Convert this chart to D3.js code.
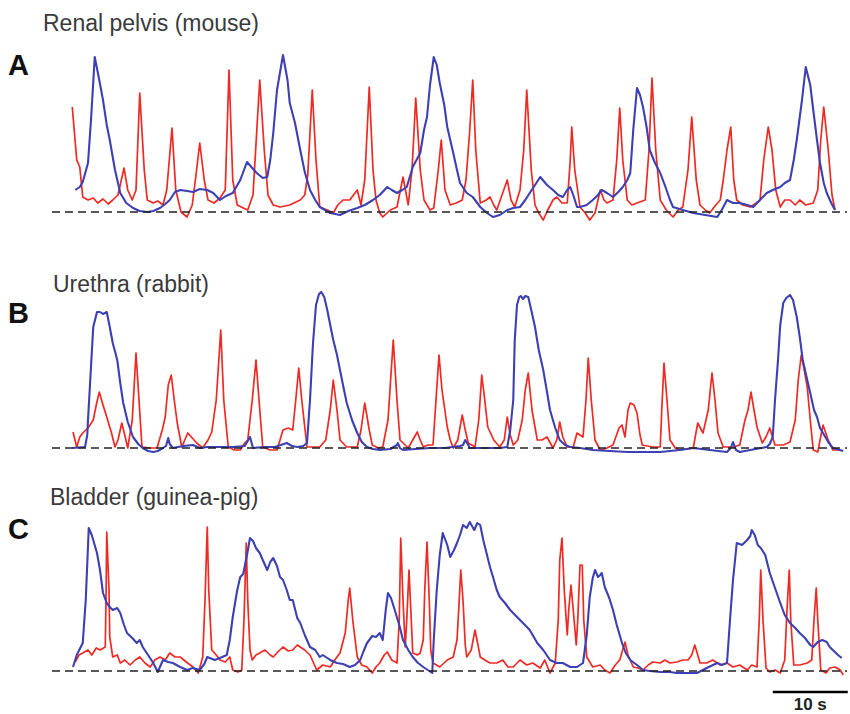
<!DOCTYPE html>
<html>
<head>
<meta charset="utf-8">
<script src="https://cdn.jsdelivr.net/npm/d3@7"></script>
<style>
  body { margin: 0; background: #fff; }
  svg { display: block; }
</style>
</head>
<body>
<svg id="chart"></svg>
<script>
// traces: [time (s), signal (a.u., 0 = resting level)]
const pelvisRed = [
  [0.3,105],[0.9,52],[1.3,45],[1.7,15],[2.4,12],[3.1,14],[3.7,9],[4.4,13],[5.1,8],[5.7,12],[6.4,17],[7.2,44],[7.7,22],[8.3,12],[8.8,22],[9.3,119],[9.9,42],[10.3,12],[11.1,9],[11.7,11],[12.4,7],[12.9,22],[13.6,84],[14.1,22],[14.8,0],[15.6,-5],[16.3,7],[16.8,37],[17.3,69],[17.9,32],[18.4,12],[19.2,9],[20.0,14],[20.7,22],[21.2,142],[21.7,32],[22.3,7],[23.1,4],[23.7,2],[24.4,17],[25.3,132],[25.9,62],[26.4,17],[27.1,7],[28.0,5],[29.3,7],[30.7,12],[31.3,17],[31.7,37],[32.3,122],[32.8,52],[33.3,5],[34.3,2],[35.1,-1],[35.7,7],[36.4,12],[37.3,12],[38.3,22],[38.8,7],[39.3,32],[39.9,125],[40.4,42],[40.8,12],[41.3,-1],[41.7,-5],[42.7,2],[43.6,5],[44.4,35],[45.1,7],[45.6,42],[46.1,114],[46.7,42],[47.2,12],[48.0,2],[48.5,4],[49.1,42],[49.5,72],[50.0,22],[50.7,7],[51.5,9],[52.3,12],[52.8,32],[53.3,82],[53.7,132],[54.1,62],[54.7,9],[55.5,12],[56.0,15],[56.5,7],[56.9,2],[57.6,17],[58.3,32],[58.8,12],[59.3,5],[60.0,22],[60.5,62],[60.9,122],[61.5,42],[62.0,7],[62.5,-1],[63.1,-8],[63.7,2],[64.4,12],[64.9,15],[65.6,9],[66.3,9],[66.7,52],[66.9,85],[67.3,42],[68.0,5],[68.7,-1],[69.3,-8],[70.0,-1],[70.7,22],[71.2,12],[71.6,9],[72.4,12],[72.9,52],[73.3,104],[73.7,52],[74.3,12],[74.9,7],[75.6,9],[76.7,12],[77.2,62],[77.6,134],[78.1,62],[78.7,12],[79.5,2],[80.4,-5],[81.1,2],[81.7,5],[82.4,42],[82.9,95],[83.5,32],[84.0,7],[84.7,2],[85.3,-1],[86.1,7],[86.7,12],[87.1,32],[87.6,62],[88.1,85],[88.5,32],[88.9,12],[89.7,7],[90.7,5],[91.5,9],[92.0,12],[92.5,52],[93.1,85],[93.6,62],[94.1,22],[94.7,5],[95.3,12],[96.0,12],[96.7,7],[97.3,12],[98.1,7],[99.1,9],[99.7,22],[100.1,72],[100.5,105],[101.1,62],[101.6,17],[102.0,2]
];
const pelvisBlue = [
  [0.7,22],[1.3,25],[1.7,30],[2.4,49],[2.8,92],[3.3,155],[3.9,132],[4.4,112],[4.9,87],[5.3,72],[6.0,42],[6.7,19],[7.5,9],[8.4,4],[9.3,1],[10.3,0],[11.1,1],[12.0,4],[12.7,8],[13.3,12],[14.0,20],[14.7,22],[15.6,21],[16.4,20],[17.3,23],[18.3,22],[19.1,19],[20.0,12],[20.8,16],[21.7,19],[22.7,32],[23.6,50],[24.3,44],[24.9,39],[25.7,34],[26.3,35],[26.7,52],[27.1,79],[27.6,122],[28.4,157],[29.0,132],[29.3,109],[30.0,89],[30.7,62],[31.3,40],[32.0,22],[32.7,12],[33.3,5],[34.7,-1],[36.0,-3],[37.1,1],[38.3,4],[39.3,7],[40.4,12],[41.3,17],[42.3,25],[42.9,22],[43.6,19],[44.3,22],[44.9,25],[45.7,45],[46.7,59],[47.2,82],[47.6,95],[48.0,127],[48.5,155],[48.9,147],[49.3,129],[49.9,107],[50.3,85],[50.7,72],[51.1,59],[51.6,42],[52.0,29],[52.9,19],[53.7,15],[54.7,5],[55.6,-1],[56.4,-5],[57.3,-3],[58.3,2],[59.1,4],[60.0,5],[60.7,12],[61.3,19],[62.0,27],[62.7,35],[63.6,27],[64.4,22],[65.1,17],[65.7,15],[66.3,22],[66.7,25],[67.1,17],[67.6,5],[68.0,5],[68.9,7],[69.7,12],[70.4,17],[70.9,22],[71.6,19],[72.4,15],[73.1,20],[73.7,25],[74.3,32],[74.7,39],[75.1,82],[75.6,124],[76.0,117],[76.4,105],[76.9,84],[77.3,62],[78.0,49],[78.7,39],[79.3,27],[80.0,12],[80.4,5],[81.7,2],[83.1,-1],[84.7,-3],[86.3,-5],[86.9,2],[87.6,12],[88.4,9],[89.3,9],[90.3,7],[91.1,5],[92.0,12],[92.9,19],[93.7,22],[94.7,25],[95.3,29],[96.0,32],[96.5,52],[96.9,72],[97.6,112],[98.1,145],[98.7,127],[99.1,102],[99.6,72],[100.0,49],[100.5,29],[100.9,19],[101.5,9],[102.0,2]
];
const urethraRed = [
  [0.4,16],[0.9,1],[1.3,11],[1.7,15],[2.4,20],[3.1,28],[3.5,43],[3.9,56],[4.4,43],[4.9,31],[5.5,16],[6.0,1],[6.4,8],[6.9,25],[7.3,13],[7.7,0],[8.3,28],[8.8,95],[9.2,48],[9.6,1],[10.7,0],[11.6,0],[12.3,18],[12.7,31],[13.1,63],[13.5,73],[13.9,48],[14.3,25],[14.9,1],[15.7,15],[16.3,10],[16.9,5],[17.7,0],[18.4,8],[18.9,16],[19.5,48],[20.1,118],[20.5,48],[21.1,1],[21.9,-2],[22.7,-2],[23.3,5],[23.7,8],[24.3,48],[24.8,88],[25.2,48],[25.7,1],[26.7,-2],[27.6,-2],[28.4,18],[29.1,20],[29.7,18],[30.1,48],[30.5,80],[30.9,48],[31.6,1],[32.5,1],[33.3,1],[34.1,8],[34.7,38],[35.1,68],[35.6,38],[36.0,8],[36.9,1],[38.3,1],[38.8,18],[39.3,45],[39.9,18],[40.3,3],[41.1,0],[41.7,1],[42.4,28],[43.1,108],[43.6,48],[44.0,8],[45.1,0],[45.7,8],[46.3,16],[46.7,8],[47.1,1],[47.7,3],[48.4,3],[48.8,48],[49.2,93],[49.6,58],[50.3,21],[50.7,8],[51.1,0],[51.7,8],[52.3,33],[52.7,18],[53.1,5],[54.0,1],[54.5,28],[54.9,73],[55.3,48],[55.7,21],[56.5,8],[57.3,1],[57.9,8],[58.3,31],[58.7,13],[59.1,3],[59.7,8],[60.3,28],[60.7,58],[61.1,75],[61.6,38],[62.3,8],[62.9,8],[63.6,11],[64.4,0],[64.9,8],[65.3,26],[65.7,11],[66.3,1],[67.1,1],[67.6,15],[68.4,11],[68.8,48],[69.1,90],[69.5,48],[70.0,8],[70.7,-2],[71.6,0],[72.4,3],[73.2,20],[73.6,23],[74.0,11],[74.4,38],[74.7,45],[75.2,43],[75.6,35],[76.0,13],[76.3,3],[77.7,1],[78.7,1],[78.9,38],[79.2,85],[79.6,48],[80.0,8],[80.7,0],[81.3,-2],[83.1,0],[83.7,25],[84.4,15],[85.1,38],[85.6,75],[86.0,48],[86.4,15],[87.1,1],[88.4,1],[89.3,3],[90.0,28],[90.4,38],[90.8,56],[91.2,38],[91.6,21],[92.3,5],[92.8,11],[93.3,20],[94.0,3],[95.1,3],[96.0,6],[96.7,28],[97.1,68],[97.5,93],[97.9,78],[98.3,61],[98.7,28],[99.1,-2],[99.7,-4],[100.4,23],[101.1,8],[101.7,-2],[102.7,-2]
];
const urethraBlue = [
  [0.3,0],[2.0,1],[2.3,13],[2.4,28],[2.7,68],[3.1,121],[3.6,136],[4.0,136],[4.4,134],[4.9,136],[5.3,121],[5.7,105],[6.3,88],[6.7,65],[7.1,45],[7.7,26],[8.4,11],[9.1,4],[9.7,0],[10.4,-3],[11.1,-4],[11.7,-3],[12.4,0],[12.8,2],[13.1,10],[13.3,4],[13.7,0],[15.1,2],[16.4,3],[17.3,0],[18.3,1],[20.0,1],[21.7,1],[23.3,2],[24.0,11],[24.4,0],[26.0,1],[27.3,1],[28.9,5],[29.6,2],[30.3,1],[31.1,2],[31.6,5],[32.0,48],[32.4,105],[32.8,143],[33.2,154],[33.5,156],[33.9,151],[34.3,138],[34.7,123],[35.1,108],[35.6,93],[36.0,78],[36.4,63],[36.9,45],[37.6,28],[38.3,15],[38.9,6],[39.6,1],[40.4,-1],[41.3,-2],[42.7,-1],[43.6,3],[43.7,5],[44.0,0],[44.4,-2],[46.0,-1],[48.0,0],[50.0,0],[52.0,2],[52.4,3],[52.7,8],[53.1,3],[53.3,0],[54.7,0],[56.0,0],[57.3,0],[58.3,1],[58.7,18],[59.1,48],[59.3,108],[59.6,143],[59.9,151],[60.1,152],[60.4,149],[60.7,152],[61.1,151],[61.5,138],[62.0,121],[62.5,98],[63.1,78],[63.6,56],[64.0,38],[64.7,20],[65.3,8],[66.0,3],[66.7,1],[68.0,0],[69.7,-2],[72.0,-3],[74.3,-4],[76.7,-4],[78.7,-4],[81.3,-2],[83.1,0],[85.3,-2],[87.6,-4],[88.1,0],[88.4,6],[88.8,-2],[89.3,-4],[90.7,-2],[92.9,1],[93.3,4],[93.7,11],[94.0,48],[94.4,88],[94.7,123],[95.1,145],[95.5,150],[96.0,153],[96.4,148],[96.9,131],[97.3,111],[97.7,88],[98.3,68],[98.7,55],[99.2,38],[99.6,31],[100.0,20],[100.4,15],[101.1,6],[101.7,0],[103.1,-3]
];
const bladderRed = [
  [0.7,9],[1.2,16],[1.7,18],[2.4,21],[2.9,16],[3.5,23],[4.0,21],[4.7,24],[4.8,71],[4.9,139],[5.2,81],[5.3,34],[5.7,14],[6.3,16],[6.7,8],[7.3,11],[8.0,6],[8.7,11],[9.3,14],[10.0,8],[10.7,4],[11.3,11],[12.0,14],[12.7,11],[13.3,18],[14.0,14],[14.7,14],[15.5,9],[16.4,4],[17.1,-2],[17.7,14],[18.0,71],[18.3,144],[18.5,81],[18.9,21],[19.5,16],[20.0,11],[20.7,9],[21.3,14],[21.7,1],[22.4,-1],[22.9,1],[23.2,51],[23.5,128],[23.7,71],[24.0,21],[24.3,11],[24.8,16],[25.3,18],[26.0,21],[26.7,16],[27.1,14],[27.7,19],[28.4,24],[29.1,20],[29.7,21],[30.3,26],[30.7,24],[31.3,21],[32.0,16],[32.9,1],[33.7,6],[34.7,4],[35.3,11],[36.0,18],[36.7,38],[37.1,71],[37.3,83],[37.7,51],[38.3,14],[38.9,6],[39.6,4],[40.3,-2],[40.8,4],[41.3,8],[41.9,16],[42.3,19],[42.9,11],[43.6,8],[43.9,51],[44.1,133],[44.4,71],[44.7,24],[44.9,51],[45.2,101],[45.5,51],[45.7,18],[46.3,16],[46.7,18],[47.1,31],[47.3,81],[47.6,129],[47.9,71],[48.1,21],[48.4,8],[49.3,4],[50.3,11],[51.1,14],[51.6,31],[51.9,71],[52.1,101],[52.4,71],[52.7,26],[52.9,14],[53.5,21],[54.0,41],[54.4,26],[54.7,14],[55.3,11],[56.0,8],[56.9,8],[57.7,11],[58.4,4],[59.1,4],[60.0,11],[60.9,6],[61.7,8],[62.7,3],[63.3,11],[64.0,-2],[64.7,8],[65.1,51],[65.3,111],[65.6,133],[65.9,81],[66.3,36],[66.5,61],[66.8,86],[67.1,61],[67.5,26],[67.7,51],[68.0,106],[68.3,106],[68.5,51],[68.9,14],[69.7,4],[70.7,6],[71.3,1],[72.0,-2],[72.7,6],[73.3,11],[74.0,29],[74.4,16],[75.1,4],[75.7,3],[76.4,1],[77.1,6],[77.7,9],[78.7,8],[79.3,11],[80.0,8],[80.9,9],[81.7,11],[82.4,11],[82.9,16],[83.3,26],[83.7,16],[84.0,8],[84.9,8],[85.7,11],[86.7,6],[87.6,8],[88.4,4],[89.3,6],[90.3,1],[90.9,6],[91.6,4],[91.9,51],[92.1,101],[92.4,51],[92.8,3],[93.3,-1],[94.0,1],[94.7,-2],[95.3,11],[95.6,61],[95.9,101],[96.1,51],[96.5,6],[97.3,6],[98.3,8],[98.9,11],[99.2,51],[99.5,83],[99.7,51],[100.1,1],[100.8,-2],[101.3,3],[102.0,4],[102.7,1],[103.1,-4]
];
const bladderBlue = [
  [0.4,4],[0.9,16],[1.7,28],[2.1,71],[2.5,143],[2.9,136],[3.6,118],[4.0,101],[4.4,78],[4.9,68],[5.3,64],[5.7,61],[6.3,63],[6.7,58],[7.2,46],[7.6,38],[8.3,33],[8.9,28],[9.3,31],[9.7,24],[10.4,16],[11.1,8],[11.7,-1],[12.4,11],[13.1,9],[13.7,8],[14.7,4],[15.6,1],[16.4,3],[17.3,1],[17.9,7],[18.3,14],[19.3,11],[20.3,14],[20.9,16],[21.3,31],[21.7,54],[22.3,81],[22.7,94],[23.1,97],[23.6,116],[24.0,133],[24.4,130],[24.8,123],[25.3,118],[25.7,111],[26.3,101],[26.7,109],[27.1,113],[27.6,105],[28.0,94],[28.4,91],[28.9,81],[29.3,71],[29.7,71],[30.3,53],[30.7,48],[31.3,36],[32.0,24],[32.7,21],[33.3,14],[33.7,16],[34.7,11],[35.6,8],[36.4,7],[37.3,4],[38.0,6],[38.7,11],[39.1,19],[39.6,28],[40.3,35],[40.8,34],[41.3,38],[41.7,31],[42.1,61],[42.4,78],[42.8,73],[43.3,61],[43.9,46],[44.4,31],[45.1,21],[45.7,14],[46.4,8],[47.1,4],[47.7,1],[48.3,-2],[48.5,31],[48.9,81],[49.3,116],[49.7,138],[50.3,126],[50.7,114],[51.2,121],[51.6,128],[52.0,136],[52.4,146],[52.9,143],[53.3,149],[53.9,141],[54.3,148],[54.7,146],[55.1,131],[55.6,116],[56.0,104],[56.4,94],[56.9,81],[57.3,74],[58.0,68],[58.7,61],[59.6,54],[60.4,48],[61.3,41],[62.3,28],[63.1,21],[64.0,11],[64.9,8],[65.7,8],[66.7,4],[67.6,4],[68.4,8],[68.9,36],[69.3,74],[69.7,93],[70.0,101],[70.4,94],[70.7,96],[70.9,98],[71.3,84],[71.9,73],[72.4,61],[72.9,46],[73.6,28],[74.1,18],[74.7,11],[75.6,6],[76.4,1],[77.3,0],[78.7,-1],[80.0,-1],[80.9,-2],[82.3,-2],[83.6,-2],[84.9,3],[86.3,8],[86.9,6],[87.6,8],[88.0,51],[88.4,91],[88.9,128],[89.6,126],[90.3,131],[90.7,135],[90.9,141],[91.3,136],[91.7,126],[92.1,123],[92.7,116],[93.3,98],[94.0,83],[94.7,68],[95.3,56],[96.0,48],[96.7,43],[97.3,38],[98.0,33],[98.7,26],[99.1,24],[99.7,29],[100.3,31],[100.9,29],[101.3,24],[101.7,21],[102.4,16],[102.9,13]
];
const panelTitles = ["Renal pelvis (mouse)", "Urethra (rabbit)", "Bladder (guinea-pig)"];
const panelLetters = ["A", "B", "C"];
const scaleBarSeconds = 10;

const width = 850, height = 714;
const svg = d3.select("#chart").attr("width", width).attr("height", height);
svg.append("rect").attr("width", width).attr("height", height).attr("fill", "#fff");

const x = d3.scaleLinear().domain([0, 104]).range([70, 850]);

// layout of the three stacked panels (baseline y in px)
const layout = [
  { base: 212, titleX: 43, titleY: 31, letterY: 75 },
  { base: 448, titleX: 53, titleY: 292, letterY: 323 },
  { base: 671, titleX: 50, titleY: 505, letterY: 539 }
];
const traces = [
  [pelvisRed, pelvisBlue],
  [urethraRed, urethraBlue],
  [bladderRed, bladderBlue]
];

layout.forEach((p, i) => {
  const y = d3.scaleLinear().domain([0, 160]).range([p.base, p.base - 160]);
  const line = d3.line().x(d => x(d[0])).y(d => y(d[1]));
  const g = svg.append("g");

  g.append("path")
    .datum(traces[i][0])
    .attr("d", line)
    .attr("fill", "none")
    .attr("stroke", "#ee2a24")
    .attr("stroke-width", 1.7)
    .attr("stroke-linejoin", "round");

  g.append("path")
    .datum(traces[i][1])
    .attr("d", line)
    .attr("fill", "none")
    .attr("stroke", "#3d40b2")
    .attr("stroke-width", 2.1)
    .attr("stroke-linejoin", "round");

  // resting level
  g.append("line")
    .attr("x1", x(-2.4)).attr("x2", x(103.6))
    .attr("y1", y(0)).attr("y2", y(0))
    .attr("stroke", "#222")
    .attr("stroke-width", 1.6)
    .attr("stroke-dasharray", "8,5");

  g.append("text")
    .attr("x", p.titleX).attr("y", p.titleY)
    .attr("font-family", "Liberation Sans, Arial, sans-serif")
    .attr("font-size", 23)
    .attr("fill", "#3a3a3a")
    .text(panelTitles[i]);

  g.append("text")
    .attr("x", 8).attr("y", p.letterY)
    .attr("font-family", "Liberation Sans, Arial, sans-serif")
    .attr("font-size", 29)
    .attr("font-weight", "bold")
    .attr("fill", "#111")
    .text(panelLetters[i]);
});

// 10 s scale bar
const barStart = 93.7;
svg.append("line")
  .attr("x1", x(barStart)).attr("x2", x(barStart + scaleBarSeconds))
  .attr("y1", 692).attr("y2", 692)
  .attr("stroke", "#000")
  .attr("stroke-width", 2.5);
svg.append("text")
  .attr("x", x(barStart + scaleBarSeconds / 2)).attr("y", 710)
  .attr("text-anchor", "middle")
  .attr("font-family", "Liberation Sans, Arial, sans-serif")
  .attr("font-size", 17)
  .attr("font-weight", "bold")
  .attr("fill", "#222")
  .text(scaleBarSeconds + " s");
</script>
</body>
</html>
